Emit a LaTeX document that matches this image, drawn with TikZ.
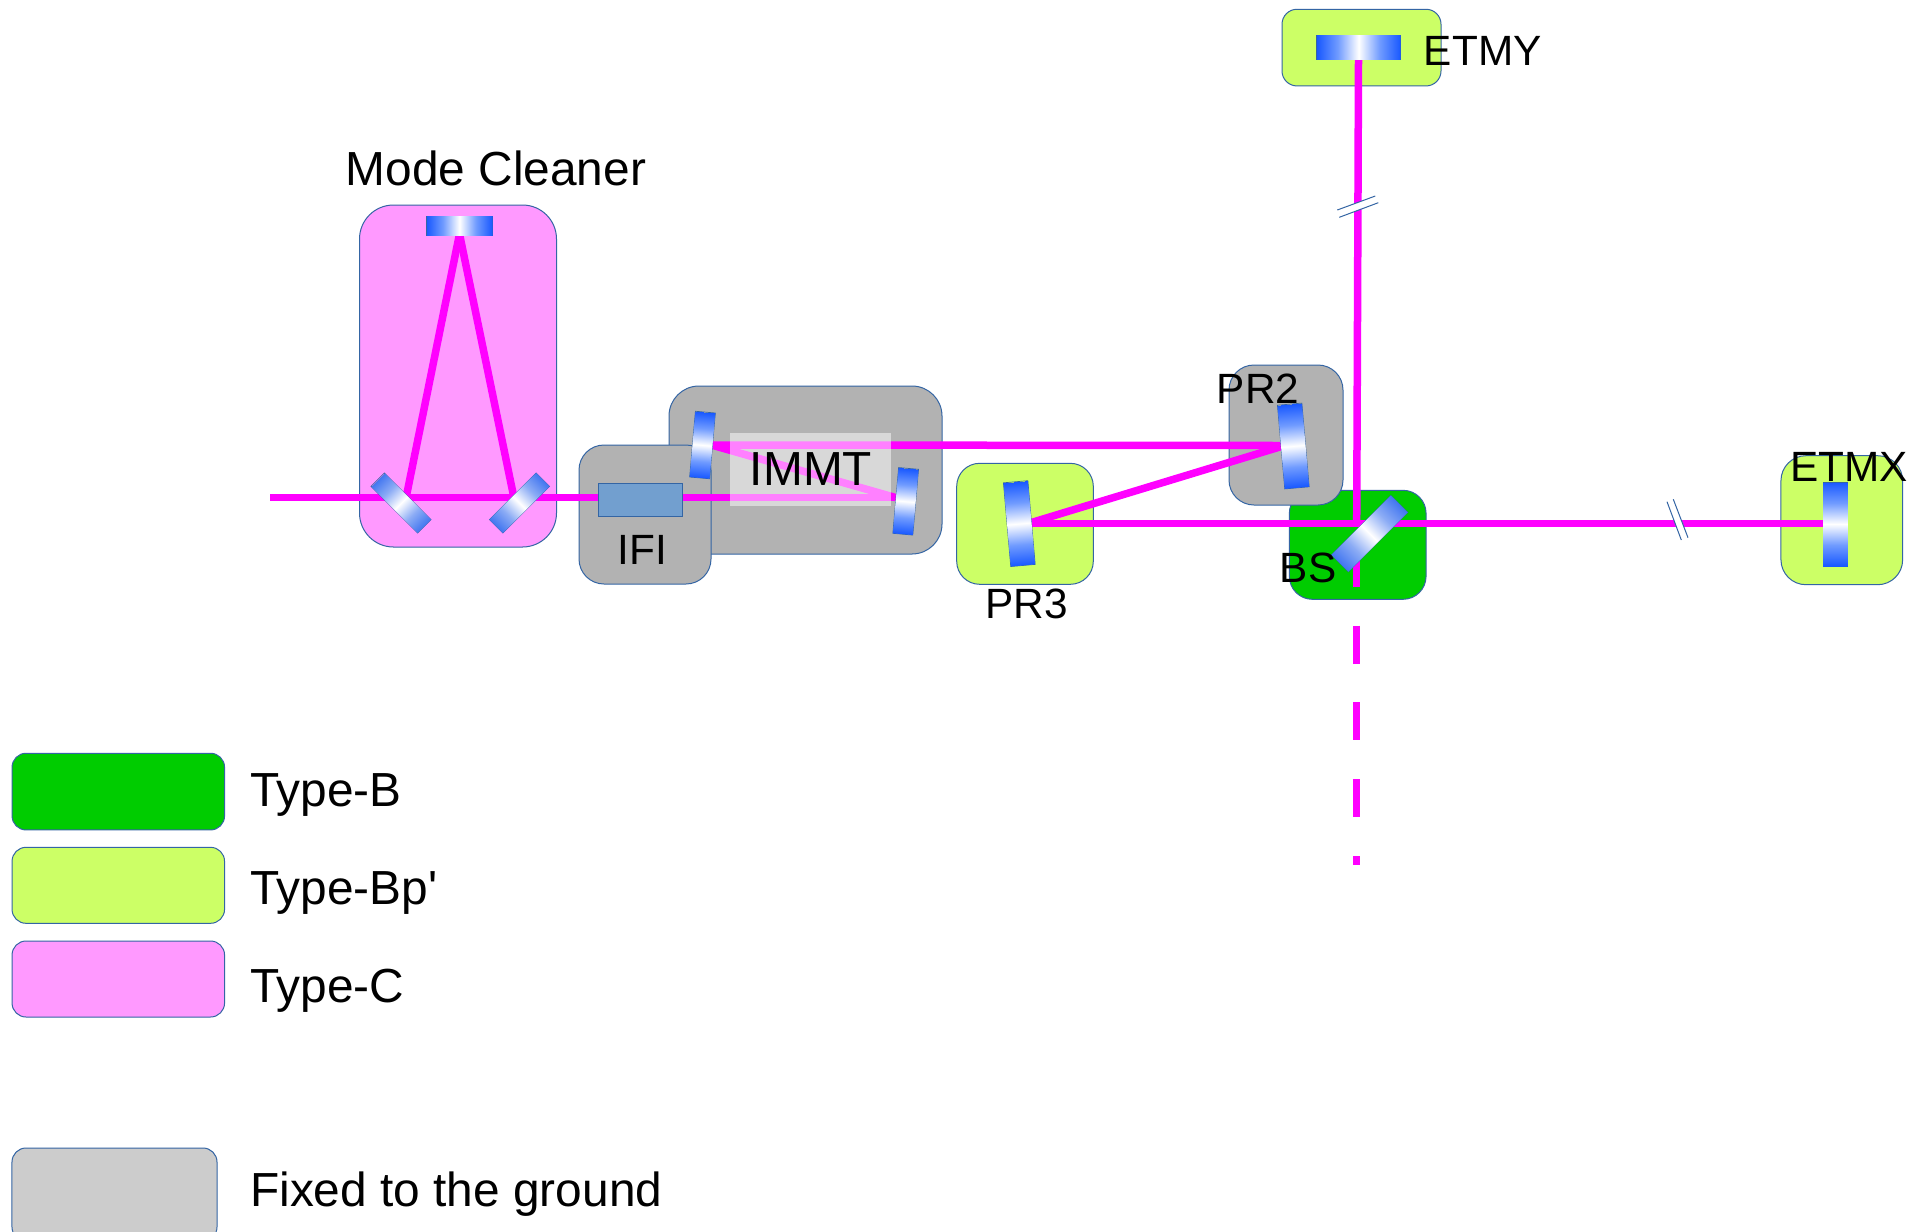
\documentclass[tikz,border=0pt]{standalone}
\usepackage{fontspec}
\setmainfont{Liberation Sans}
\newfontfamily\plainfont{Liberation Sans}
\definecolor{beam}{RGB}{255,0,255}
\definecolor{edge}{RGB}{52,101,164}
\definecolor{mirblue}{RGB}{24,88,255}
\definecolor{mirmid}{RGB}{112,155,255}
\definecolor{mirdiag}{RGB}{66,118,240}
\definecolor{mirdiagmid}{RGB}{140,172,245}
\definecolor{typeb}{RGB}{0,204,0}
\definecolor{typebp}{RGB}{204,255,102}
\definecolor{typec}{RGB}{255,153,255}
\definecolor{fixedgray}{RGB}{178,178,178}
\definecolor{legendgray}{RGB}{204,204,204}
\definecolor{isolator}{RGB}{114,159,207}
\pgfdeclareverticalshading{mirsmall}{20bp}{color(0bp)=(mirblue); color(16.5bp)=(mirmid); color(33bp)=(white); color(49.5bp)=(mirmid); color(66bp)=(mirblue)}
\pgfdeclareverticalshading{mirtop}{19bp}{color(0bp)=(mirblue); color(16.5bp)=(mirmid); color(33bp)=(white); color(49.5bp)=(mirmid); color(66bp)=(mirblue)}
\pgfdeclareverticalshading{mirdiagsh}{19bp}{color(0bp)=(mirdiag); color(16.5bp)=(mirdiagmid); color(33bp)=(white); color(49.5bp)=(mirdiagmid); color(66bp)=(mirdiag)}
\pgfdeclareverticalshading{mirbig}{24.5bp}{color(0bp)=(mirblue); color(21bp)=(mirmid); color(42bp)=(white); color(63bp)=(mirmid); color(84bp)=(mirblue)}
\pgfdeclareverticalshading{mirbs}{24bp}{color(0bp)=(mirdiag); color(21bp)=(mirdiagmid); color(42bp)=(white); color(63bp)=(mirdiagmid); color(84bp)=(mirdiag)}
\tikzset{
  box/.style={draw=edge,line width=1bp,inner sep=0pt,outer sep=0pt},
  mirror/.style={draw=edge,line width=.7bp,inner sep=0pt,outer sep=0pt},
  laser/.style={draw=beam,line width=7.5bp,line cap=butt},
  breakline/.style={draw=edge,line width=1bp},
  lab/.style={anchor=base,inner sep=0pt,text=black,font=\fontsize{42.5}{45}\selectfont},
  labbig/.style={anchor=base,inner sep=0pt,text=black,font=\fontsize{48}{50}\selectfont},
  legtext/.style={anchor=base west,inner sep=0pt,text=black,font=\fontsize{48}{50}\selectfont}
}
\begin{document}
\begin{tikzpicture}[x=1bp,y=-1bp]
\useasboundingbox (0,0) rectangle (1927,1231);
\clip (0,0) rectangle (1927,1231);
\fill[white] (0,0) rectangle (1927,1231);
% housings
\node[box,fill=typec,minimum width=197bp,minimum height=342bp,rounded corners=34bp] (mcbox) at (458,376) {};
\node[box,fill=fixedgray,minimum width=273bp,minimum height=168bp,rounded corners=30bp] (immtbox) at (805.5,470) {};
\node[box,fill=fixedgray,minimum width=132bp,minimum height=139bp,rounded corners=25bp] (ifibox) at (645,514.5) {};
\node[box,fill=typebp,minimum width=136.6bp,minimum height=121bp,rounded corners=23bp] (pr3box) at (1025,523.8) {};
\node[box,fill=typeb,minimum width=136.7bp,minimum height=109bp,rounded corners=23bp] (bsbox) at (1357.7,544.8) {};
\node[box,fill=fixedgray,minimum width=114bp,minimum height=140bp,rounded corners=25bp] (pr2box) at (1286,435) {};
\node[box,fill=typebp,minimum width=121.7bp,minimum height=129bp,rounded corners=25bp] (etmxbox) at (1841.8,520.2) {};
\node[box,fill=typebp,minimum width=159bp,minimum height=76.7bp,rounded corners=15bp] (etmybox) at (1361.5,47.6) {};
% beam end points
\coordinate (laserin) at (270,497.7);
\coordinate (mcl) at (406,498);
\coordinate (mcr) at (514,498);
\coordinate (mct) at (459.5,234);
\coordinate (immtb) at (896,497.7);
\coordinate (immta) at (711.5,445);
\coordinate (prtwo) at (1283,445.5);
\coordinate (prtwob) at (1283,446);
\coordinate (prthree) at (1031.5,523.3);
\coordinate (prthreeb) at (1031.5,522.5);
\coordinate (bscentre) at (1356.7,523.3);
\coordinate (etmxhit) at (1823,523.3);
\coordinate (etmyhit) at (1358.5,60);
\coordinate (bsdark) at (1356.7,540);
\coordinate (darkend) at (1356.7,865);
% beams
\draw[laser] (laserin) -- (immtb);
\draw[laser] (mcl) -- (mct);
\draw[laser] (mcr) -- (mct);
\draw[laser] (immtb) -- (immta);
\draw[laser] (immta) -- (prtwo);
\draw[laser] (prtwob) -- (prthreeb);
\draw[laser] (prthree) -- (etmxhit);
\draw[laser] (etmyhit) -- (bscentre);
\draw[laser,dash pattern=on 46.7bp off 38.8bp on 38bp off 38.8bp on 38bp off 38.8bp on 38.3bp off 38.7bp] (bsdark) -- (darkend);
% arm breaks
\coordinate (ya) at (1337.3,210);
\coordinate (yb) at (1375.3,196);
\coordinate (yc) at (1378.3,202.7);
\coordinate (yd) at (1339.3,217.3);
\fill[white] (ya) -- (yb) -- (yc) -- (yd) -- cycle;
\draw[breakline] (ya) -- (yb);
\draw[breakline] (yd) -- (yc);
\coordinate (xa) at (1667,501.7);
\coordinate (xb) at (1681.3,540);
\coordinate (xc) at (1688,537.7);
\coordinate (xd) at (1673.3,499.3);
\fill[white] (xa) -- (xb) -- (xc) -- (xd) -- cycle;
\draw[breakline] (xa) -- (xb);
\draw[breakline] (xd) -- (xc);
% IFI crystal and IMMT label plate
\node[draw=edge,line width=1bp,fill=isolator,inner sep=0pt,minimum width=84bp,minimum height=33bp] (ifi) at (640,499.5) {};
\node[fill=white,fill opacity=.5,inner sep=0pt,minimum width=161bp,minimum height=73bp] (plate) at (810.5,469.5) {};
% mirrors
\node[mirror,rotate=90] (mctop) at (459.5,226) {\pgfuseshading{mirtop}};
\node[mirror,rotate=45] (mcleft) at (401,503) {\pgfuseshading{mirdiagsh}};
\node[mirror,rotate=-45] (mcright) at (519.5,503) {\pgfuseshading{mirdiagsh}};
\node[mirror,rotate=-5] (immtone) at (702.5,445) {\pgfuseshading{mirsmall}};
\node[mirror,rotate=-5] (immttwo) at (905.7,501.3) {\pgfuseshading{mirsmall}};
\node[mirror,rotate=5] (prtwomir) at (1293.3,446) {\pgfuseshading{mirbig}};
\node[mirror,rotate=5] (prthreemir) at (1019.3,523.6) {\pgfuseshading{mirbig}};
\node[mirror,rotate=-45] (bsmir) at (1369.6,533.6) {\pgfuseshading{mirbs}};
\node[mirror] (etmxmir) at (1835.3,524) {\pgfuseshading{mirbig}};
\node[mirror,rotate=90] (etmymir) at (1358.7,47.5) {\pgfuseshading{mirbig}};
% labels
\node[labbig] (mclabel) at (496,185) {Mode Cleaner};
\node[labbig] (immtlabel) at (811,485) {IMMT};
\node[lab] (ifilabel) at (642.5,564) {IFI};
\node[lab] (prtwolabel) at (1258,403) {PR2};
\node[lab] (prthreelabel) at (1026.7,618.5) {PR3};
\node[lab] (bslabel) at (1308,582.7) {BS};
\node[lab] (etmxlabel) at (1849,481.7) {ETMX};
\node[lab] (etmylabel) at (1482.7,65) {ETMY};
% legend
\node[box,fill=typeb,minimum width=212.5bp,minimum height=76.7bp,rounded corners=14bp] (legb) at (118.3,791.6) {};
\node[box,fill=typebp,minimum width=212.5bp,minimum height=76bp,rounded corners=14bp] (legbp) at (118.3,885.3) {};
\node[box,fill=typec,minimum width=212.5bp,minimum height=76bp,rounded corners=14bp] (legc) at (118.3,979) {};
\node[box,fill=legendgray,minimum width=205bp,minimum height=93bp,rounded corners=14bp] (legf) at (114.5,1194.5) {};
\node[legtext] (ltb) at (250,806.7) {Type-B};
\node[legtext] (ltbp) at (250,904) {\plainfont Type-Bp'};
\node[legtext] (ltc) at (250,1002) {Type-C};
\node[legtext] (ltf) at (250,1206.7) {Fixed to the ground};
\end{tikzpicture}
\end{document}
